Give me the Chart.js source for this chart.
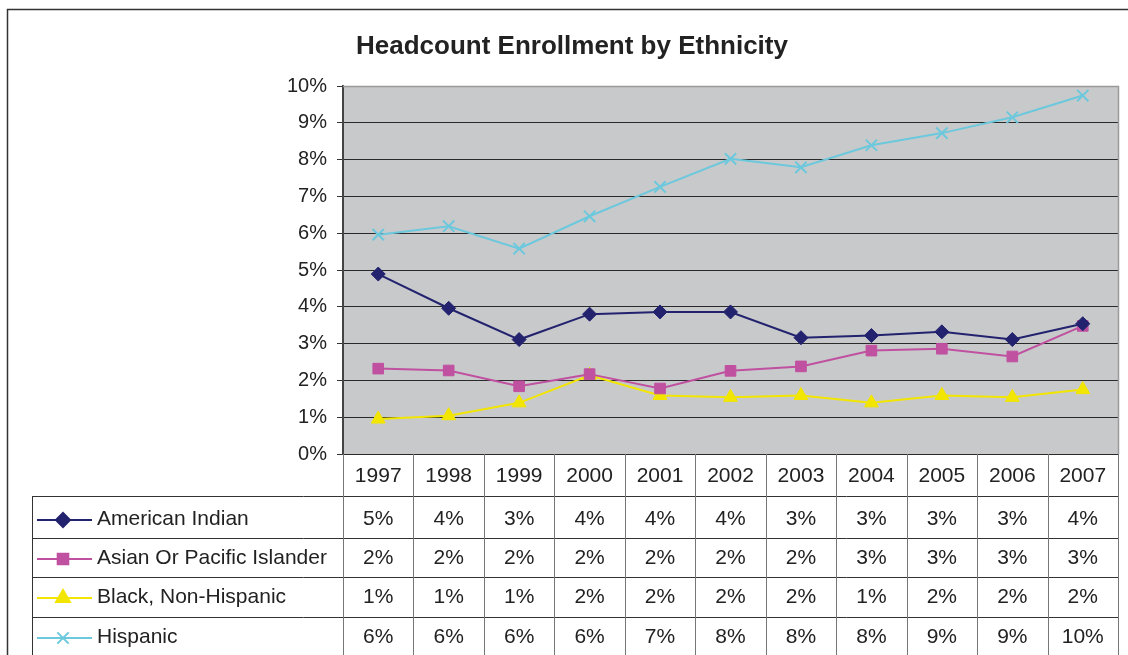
<!DOCTYPE html>
<html>
<head>
<meta charset="utf-8">
<script src="https://cdn.jsdelivr.net/npm/chart.js@4/dist/chart.umd.min.js"></script>
<style>
html,body{margin:0;padding:0;background:#fff;}
#wrap{width:1128px;height:655px;position:relative;}
</style>
</head>
<body>
<div id="wrap"><canvas id="c" width="1128" height="655"></canvas></div>
<script>
const years = ['1997','1998','1999','2000','2001','2002','2003','2004','2005','2006','2007'];
const americanIndian = [4.89,3.96,3.11,3.80,3.86,3.86,3.16,3.22,3.32,3.11,3.54];
const asianPacific   = [2.32,2.27,1.84,2.17,1.78,2.26,2.38,2.81,2.86,2.65,3.48];
const blackNonHisp   = [0.95,1.04,1.39,2.14,1.59,1.54,1.59,1.39,1.59,1.54,1.75];
const hispanic       = [5.96,6.19,5.58,6.46,7.26,8.02,7.79,8.39,8.72,9.15,9.74];
const seriesNames = ['American Indian','Asian Or Pacific Islander','Black, Non-Hispanic','Hispanic'];
const titleText = 'Headcount Enrollment by Ethnicity';

const FONT = '"Liberation Sans", Arial, sans-serif';
const colors = ['#22226e','#c050a0','#f2e600','#6cc8dc'];
const styles = ['rectRot','rect','triangle','crossRot'];
const radii = [7,7.5,8,8];

const seriesData = [americanIndian, asianPacific, blackNonHisp, hispanic];

const datasets = seriesData.map((d,i)=>({
  label: seriesNames[i],
  data: d,
  borderColor: colors[i],
  backgroundColor: colors[i],
  borderWidth: 2,
  pointStyle: styles[i],
  pointRadius: radii[i],
  pointBorderWidth: i===3 ? 2 : 1,
  pointBorderColor: colors[i],
  pointBackgroundColor: colors[i],
  tension: 0
}));

const rowBaselines = [525,564,603,643];
const rowLineY = [520,559,598,638];
const hLines = [496,538,577,617];

const decor = {
  id:'decor',
  beforeDraw(chart){
    const {ctx, chartArea:a} = chart;
    ctx.save();
    ctx.fillStyle = '#c8c9cb';
    ctx.fillRect(a.left, a.top, a.right-a.left, a.bottom-a.top);
    ctx.restore();
  },
  afterDraw(chart){
    const {ctx, chartArea:a} = chart;
    const xs = chart.scales.x;
    ctx.save();
    ctx.strokeStyle = '#9a9a9a';
    ctx.lineWidth = 1.5;
    ctx.beginPath();
    ctx.moveTo(a.left, a.top+0.5); ctx.lineTo(a.right+0.5, a.top+0.5); ctx.lineTo(a.right+0.5, a.bottom);
    ctx.stroke();
    ctx.strokeStyle = '#333';
    ctx.lineWidth = 1.5;
    ctx.strokeRect(7.5, 9.5, 1200, 700);
    ctx.fillStyle = '#222';
    ctx.font = 'bold 26px ' + FONT;
    ctx.textAlign = 'center';
    ctx.textBaseline = 'alphabetic';
    ctx.fillText(titleText, 572, 54);
    const n = years.length;
    const colW = (a.right - a.left)/n;
    ctx.strokeStyle = '#333';
    ctx.lineWidth = 1;
    ctx.beginPath();
    hLines.forEach(y=>{ ctx.moveTo(32, y+0.5); ctx.lineTo(a.right, y+0.5); });
    ctx.moveTo(32.5, 496); ctx.lineTo(32.5, 660);
    ctx.stroke();
    ctx.strokeStyle = '#777';
    ctx.beginPath();
    for(let i=0;i<=n;i++){
      const x = Math.round(a.left + i*colW)+0.5;
      ctx.moveTo(x, a.bottom); ctx.lineTo(x, 660);
    }
    ctx.stroke();
    ctx.fillStyle = '#222';
    ctx.font = '21px ' + FONT;
    ctx.textAlign = 'center';
    years.forEach((yr,i)=>{
      const x = xs.getPixelForValue(i);
      ctx.fillText(yr, x, 482);
      seriesData.forEach((d,s)=>{
        ctx.fillText(Math.round(d[i]) + '%', x, rowBaselines[s]);
      });
    });
    ctx.textAlign = 'left';
    seriesData.forEach((d,s)=>{
      const y = rowLineY[s];
      ctx.strokeStyle = colors[s];
      ctx.lineWidth = 2;
      ctx.beginPath(); ctx.moveTo(37, y); ctx.lineTo(92, y); ctx.stroke();
      ctx.fillStyle = colors[s];
      Chart.helpers.drawPoint(ctx, {pointStyle: styles[s], radius: radii[s], borderWidth: s===3?2:1, rotation:0}, 63, y);
      ctx.fillStyle = '#222';
      ctx.fillText(seriesNames[s], 97, rowBaselines[s]);
    });
    ctx.restore();
  }
};

new Chart(document.getElementById('c'), {
  type:'line',
  data:{ labels: years, datasets },
  options:{
    responsive:false,
    animation:false,
    devicePixelRatio:1,
    layout:{ padding:{ left:0, top:86, right:9, bottom:201 } },
    plugins:{ legend:{display:false}, title:{display:false}, tooltip:{enabled:false} },
    scales:{
      x:{ display:false, offset:true },
      y:{
        min:0, max:10,
        afterFit(s){ s.width = 343; },
        ticks:{ stepSize:1, callback:v=>v+'%', font:{family:FONT, size:20}, color:'#222', padding:10 },
        grid:{ color:(c)=> c.index===10 ? '#9a9a9a' : '#2a2a2a', lineWidth:1, tickLength:6, drawTicks:true, tickColor:'#333' },
        border:{ display:true, color:'#444', width:2 }
      }
    }
  },
  plugins:[decor]
});
</script>
</body>
</html>
